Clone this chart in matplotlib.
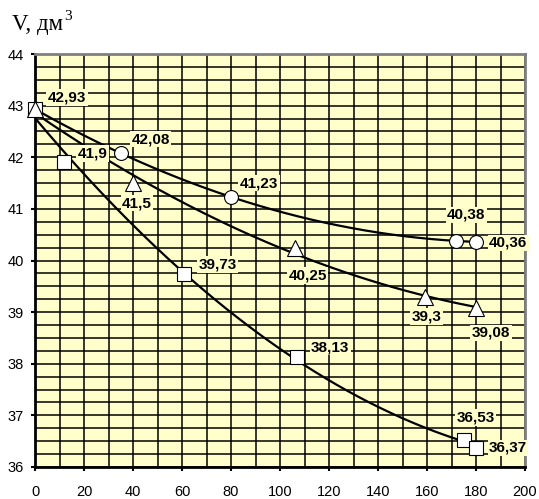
import numpy as np
import matplotlib
matplotlib.use('Agg')
import matplotlib.pyplot as plt
from matplotlib.ticker import MultipleLocator

# Volume vs time, three series (circles, triangles, squares)
circ_x = [0, 35, 80, 172, 180]
circ_y = [42.93, 42.08, 41.23, 40.38, 40.36]
tri_x = [0, 40, 106, 159, 180]
tri_y = [42.93, 41.5, 40.25, 39.3, 39.08]
sq_x = [0, 12, 61, 107, 175, 180]
sq_y = [42.93, 41.9, 39.73, 38.13, 36.53, 36.37]

# label offsets (pixels) for each point, None = no label
circ_off = [(32, 12), (30, 14), (28, 14), (10, 26), (32, -1)]
tri_off = [None, (4, -20), (13, -28), (2, -20), (15, -25)]
sq_off = [None, (28, 9), (33, 10), (33, 10), (12, 22), (32, 0)]

plt.rcParams['font.family'] = 'Liberation Sans'

fig = plt.figure(figsize=(5.39, 4.99), dpi=100)
ax = fig.add_axes([35/539, 32/499, 490/539, 413/499])
ax.set_facecolor('#FFFFCC')

ax.set_xlim(0, 200)
ax.set_ylim(36, 44)
ax.xaxis.set_major_locator(MultipleLocator(20))
ax.xaxis.set_minor_locator(MultipleLocator(10))
ax.yaxis.set_major_locator(MultipleLocator(1))
ax.yaxis.set_minor_locator(MultipleLocator(0.25))
ax.grid(which='both', color='black', linewidth=1.1)
ax.set_axisbelow(True)

ax.tick_params(which='major', direction='out', length=3, width=1.5, labelsize=10.5)
ax.tick_params(axis='x', pad=10)
ax.tick_params(axis='y', pad=5)
ax.tick_params(which='minor', length=0)

for s in ['left', 'bottom']:
    ax.spines[s].set_color('black')
    ax.spines[s].set_linewidth(2)
for s in ['top', 'right']:
    ax.spines[s].set_color('#808080')
    ax.spines[s].set_linewidth(2)

# quadratic trend lines
for xs, ys in [(circ_x, circ_y), (tri_x, tri_y), (sq_x, sq_y)]:
    c = np.polyfit(xs, ys, 2)
    xx = np.linspace(0, max(xs), 200)
    ax.plot(xx, np.polyval(c, xx), color='black', lw=1.6, zorder=3)

ax.plot(circ_x, circ_y, 'o', ms=10, mfc='white', mec='black', mew=0.8, zorder=4, clip_on=False)
ax.plot(sq_x, sq_y, 's', ms=10.5, mfc='white', mec='black', mew=0.8, zorder=4, clip_on=False)
ax.plot(tri_x, tri_y, '^', ms=11.5, mfc='white', mec='black', mew=0.8, zorder=4, clip_on=False)

box = dict(facecolor='#FFFFCC', edgecolor='none', pad=1)
for xs, ys, offs in [(circ_x, circ_y, circ_off), (tri_x, tri_y, tri_off), (sq_x, sq_y, sq_off)]:
    for x, y, off in zip(xs, ys, offs):
        if off is None:
            continue
        ax.annotate(f'{y:g}'.replace('.', ','), (x, y), xytext=off,
                    textcoords='offset pixels', ha='center', va='center',
                    fontsize=11, fontweight='bold', bbox=box, zorder=5,
                    annotation_clip=False)

fig.text(12/539, 1 - 30/499, 'V, дм', family='Liberation Serif', fontsize=16.5,
         ha='left', va='baseline')
fig.text(64/539, 1 - 20/499, '3', family='Liberation Serif', fontsize=11,
         ha='left', va='baseline')

fig.savefig('out.png', dpi=100)
